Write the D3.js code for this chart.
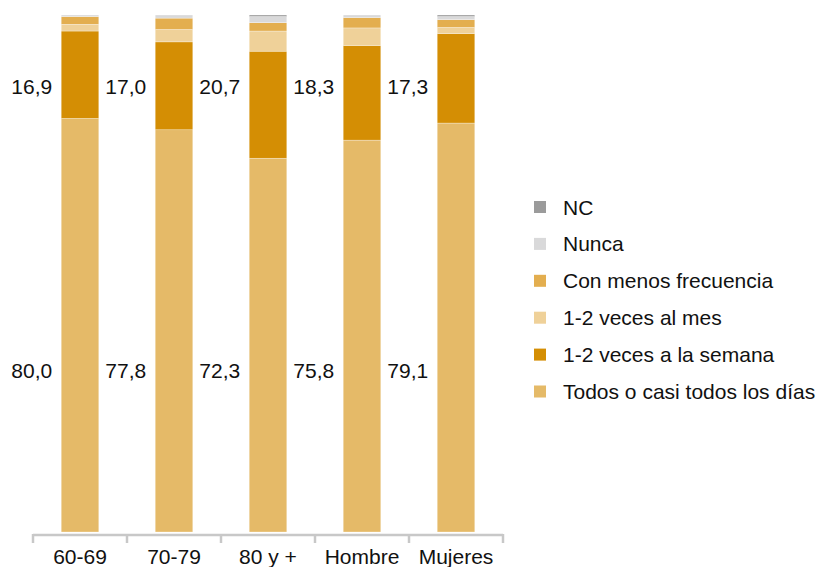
<!DOCTYPE html>
<html>
<head>
<meta charset="utf-8">
<script src="https://cdn.jsdelivr.net/npm/d3@7"></script>
<style>
  html, body { margin: 0; padding: 0; background: #fff; }
  svg { display: block; font-family: "Liberation Sans", Arial, Helvetica, sans-serif; }
</style>
</head>
<body>
<svg id="chart" width="824" height="567"></svg>
<script>
const groups   = ["60-69", "70-79", "80 y +", "Hombre", "Mujeres"];
const todos    = [80.0, 77.8, 72.3, 75.8, 79.1];
const semana   = [16.9, 17.0, 20.7, 18.3, 17.3];
const alMes    = [1.3, 2.4, 3.9, 3.4, 1.2];
const conMenos = [1.5, 2.2, 1.6, 2.0, 1.5];
const nunca    = [0.3, 0.6, 1.2, 0.5, 0.6];
const nc       = [0.0, 0.0, 0.3, 0.0, 0.3];

const seriesNames = ["Todos o casi todos los días", "1-2 veces a la semana", "1-2 veces al mes",
                     "Con menos frecuencia", "Nunca", "NC"];
const seriesColors = ["#e5ba68", "#d48e04", "#efd199", "#e3ae4f", "#d9d9da", "#9b9b9b"];
const seriesValues = [todos, semana, alMes, conMenos, nunca, nc];
const labelledSeries = [0, 1];

const svg = d3.select("#chart");

const x = d3.scaleBand().domain(groups).range([33, 503]).padding(0);
const y = d3.scaleLinear().domain([0, 100]).range([532, 15]);
const barW = x.bandwidth() * 0.4;

const rows = groups.map((g, i) => {
  const r = { group: g };
  seriesNames.forEach((s, k) => r[s] = seriesValues[k][i]);
  return r;
});
const stacked = d3.stack().keys(seriesNames)(rows);

svg.append("g").selectAll("g")
  .data(stacked)
  .join("g")
  .attr("fill", (d, k) => seriesColors[k])
  .selectAll("rect")
  .data(d => d)
  .join("rect")
  .attr("x", d => x(d.data.group) + (x.bandwidth() - barW) / 2)
  .attr("width", barW)
  .attr("y", d => y(d[1]))
  .attr("height", d => Math.max(0, y(d[0]) - y(d[1])))
  .attr("stroke", "#fff")
  .attr("stroke-width", 0.5)
  .attr("stroke-opacity", 0.6);

// value labels (fixed rows, left of each bar)
const labelBaselines = [378, 94];
labelledSeries.forEach((k, j) => {
  svg.append("g").selectAll("text")
    .data(groups)
    .join("text")
    .attr("x", g => x(g) + (x.bandwidth() - barW) / 2 - 9)
    .attr("y", labelBaselines[j])
    .attr("text-anchor", "end")
    .attr("font-size", 21)
    .attr("fill", "#111")
    .text((g, i) => seriesValues[k][i].toFixed(1).replace(".", ","));
});

// x axis
const axisG = svg.append("g").attr("transform", "translate(0,535)");
axisG.append("line")
  .attr("x1", 33).attr("x2", 503)
  .attr("stroke", "#c8c8c8").attr("stroke-width", 2.5);
const tickPositions = groups.map(g => x(g)).concat([x(groups[groups.length - 1]) + x.bandwidth()]);
axisG.selectAll("line.tick")
  .data(tickPositions)
  .join("line")
  .attr("class", "tick")
  .attr("x1", d => d).attr("x2", d => d)
  .attr("y1", -1).attr("y2", 8)
  .attr("stroke", "#c8c8c8").attr("stroke-width", 2.5);
axisG.selectAll("text")
  .data(groups)
  .join("text")
  .attr("x", g => x(g) + x.bandwidth() / 2)
  .attr("y", 29)
  .attr("text-anchor", "middle")
  .attr("font-size", 21)
  .attr("fill", "#111")
  .text(g => g);

// legend
const legendOrder = [5, 4, 3, 2, 1, 0];
const legend = svg.append("g").attr("transform", "translate(534,207)");
const li = legend.selectAll("g")
  .data(legendOrder)
  .join("g")
  .attr("transform", (k, i) => `translate(0,${i * 36.9})`);
li.append("rect")
  .attr("x", 0).attr("y", -6)
  .attr("width", 12).attr("height", 12)
  .attr("fill", k => seriesColors[k]);
li.append("text")
  .attr("x", 29).attr("y", 7.5)
  .attr("font-size", 21)
  .attr("fill", "#111")
  .text(k => seriesNames[k]);
</script>
</body>
</html>
